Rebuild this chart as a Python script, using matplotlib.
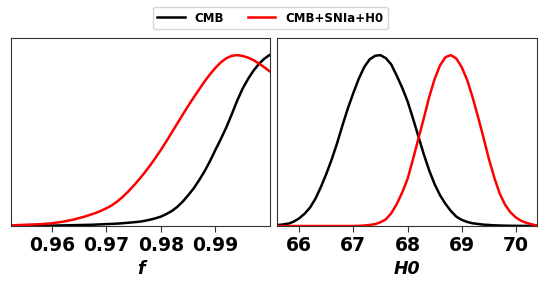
import numpy as np
import matplotlib
matplotlib.use("Agg")
from matplotlib import pyplot as plt

# values (normalised posteriors, peak = 1)
f_cmb = [0.9525, 0.955, 0.958, 0.961, 0.964, 0.967, 0.970, 0.972, 0.974, 0.976,
         0.977, 0.978, 0.979, 0.980, 0.981, 0.982, 0.983, 0.984, 0.985, 0.986,
         0.987, 0.988, 0.989, 0.990, 0.991, 0.992, 0.993, 0.994, 0.995, 0.996,
         0.997, 0.998, 0.999, 0.9999]
p_cmb = [0.001, 0.001, 0.002, 0.003, 0.005, 0.007, 0.011, 0.014, 0.019, 0.025,
         0.030, 0.037, 0.045, 0.055, 0.070, 0.088, 0.112, 0.143, 0.180, 0.220,
         0.268, 0.320, 0.380, 0.446, 0.510, 0.578, 0.655, 0.735, 0.805, 0.862,
         0.910, 0.950, 0.980, 1.0]

f_sn = [0.9525, 0.955, 0.958, 0.960, 0.962, 0.964, 0.966, 0.968, 0.969, 0.970,
        0.971, 0.972, 0.973, 0.974, 0.975, 0.976, 0.977, 0.978, 0.979, 0.980,
        0.981, 0.982, 0.983, 0.984, 0.985, 0.986, 0.987, 0.988, 0.989, 0.990,
        0.991, 0.992, 0.993, 0.994, 0.995, 0.996, 0.997, 0.998, 0.999, 0.9999]
p_sn = [0.004, 0.007, 0.011, 0.016, 0.025, 0.038, 0.055, 0.076, 0.089, 0.104,
        0.121, 0.144, 0.171, 0.202, 0.236, 0.273, 0.312, 0.354, 0.399, 0.446,
        0.496, 0.548, 0.600, 0.652, 0.703, 0.752, 0.799, 0.846, 0.888, 0.926,
        0.958, 0.982, 0.996, 1.0, 0.995, 0.985, 0.970, 0.950, 0.928, 0.906]

h_cmb = [65.59, 65.7, 65.815, 65.9, 66.0, 66.1, 66.2, 66.3, 66.4, 66.5,
         66.6, 66.7, 66.8, 66.9, 67.0, 67.1, 67.2, 67.3, 67.4, 67.5,
         67.6, 67.7, 67.8, 67.9, 68.0, 68.1, 68.2, 68.3, 68.4, 68.5,
         68.6, 68.7, 68.8, 68.9, 69.0, 69.1, 69.2, 69.4, 69.6, 69.8,
         70.0, 70.39]
p_hcmb = [0.005, 0.009, 0.015, 0.026, 0.045, 0.072, 0.108, 0.160, 0.228, 0.305,
          0.390, 0.485, 0.590, 0.690, 0.779, 0.862, 0.930, 0.975, 0.996, 1.0,
          0.982, 0.945, 0.880, 0.810, 0.730, 0.630, 0.525, 0.420, 0.325, 0.245,
          0.180, 0.130, 0.088, 0.055, 0.036, 0.024, 0.016, 0.008, 0.004, 0.002,
          0.001, 0.0]

h_sn = [65.59, 66.5, 67.0, 67.1, 67.2, 67.3, 67.4, 67.5, 67.6, 67.7,
        67.8, 67.9, 68.0, 68.1, 68.2, 68.3, 68.4, 68.5, 68.6, 68.7,
        68.8, 68.9, 69.0, 69.1, 69.2, 69.3, 69.4, 69.5, 69.6, 69.7,
        69.8, 69.9, 70.0, 70.1, 70.2, 70.3, 70.39]
p_hsn = [0.0, 0.0, 0.0, 0.001, 0.003, 0.006, 0.011, 0.022, 0.039, 0.075,
         0.128, 0.195, 0.275, 0.390, 0.510, 0.630, 0.755, 0.860, 0.940, 0.988,
         1.0, 0.980, 0.930, 0.855, 0.755, 0.640, 0.520, 0.395, 0.285, 0.191,
         0.125, 0.080, 0.050, 0.030, 0.018, 0.009, 0.003]

f_ticks = [0.96, 0.97, 0.98, 0.99]
h_ticks = [66, 67, 68, 69, 70]

fig = plt.figure(figsize=(5.47, 2.87), dpi=100)
ax1 = fig.add_axes([0.0201, 0.2125, 0.4735, 0.655])
ax2 = fig.add_axes([0.5064, 0.2125, 0.4753, 0.655])

ax1.plot(f_cmb, p_cmb, color="black", lw=1.8, label="CMB")
ax1.plot(f_sn, p_sn, color="red", lw=1.8, label="CMB+SNIa+H0")
ax2.plot(h_cmb, p_hcmb, color="black", lw=1.8)
ax2.plot(h_sn, p_hsn, color="red", lw=1.8)

ax1.set_xlim(0.9525, 1.0)
ax2.set_xlim(65.59, 70.39)
ax1.set_xticks(f_ticks)
ax1.set_xticklabels(["%.2f" % t for t in f_ticks])
ax2.set_xticks(h_ticks)
ax1.set_xlabel("f", fontsize=12.5, fontweight="bold", fontstyle="italic")
ax2.set_xlabel("H0", fontsize=12.5, fontweight="bold", fontstyle="italic")

for ax in (ax1, ax2):
    ax.set_ylim(0, 1.1)
    ax.set_yticks([])
    ax.tick_params(axis="x", length=4, width=0.8, color="#333333", labelsize=13.5, pad=3)
    for lab in ax.get_xticklabels():
        lab.set_fontweight("bold")
    for sp in ax.spines.values():
        sp.set_color("#333333")
        sp.set_linewidth(0.8)

fig.legend(loc="center", bbox_to_anchor=(0.494, 0.937), ncol=2,
           prop={"weight": "bold", "size": 8.5}, handlelength=2.3, handletextpad=0.85,
           columnspacing=2.0, frameon=True, fancybox=True, borderpad=0.4)

fig.savefig("out.png", dpi=100)
plt.close()
